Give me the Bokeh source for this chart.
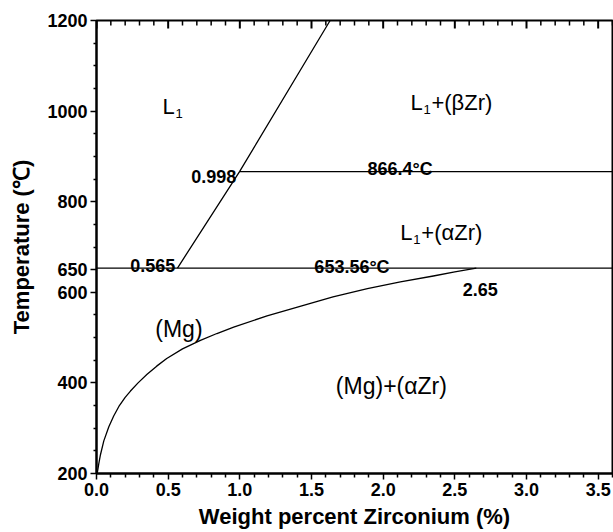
from bokeh.plotting import figure
from bokeh.models import Range1d, FixedTicker, PrintfTickFormatter
from bokeh.core.properties import value
from bokeh.embed import file_html
from bokeh.resources import INLINE

# ---- data ----
x_major = [0.0, 0.5, 1.0, 1.5, 2.0, 2.5, 3.0, 3.5]
x_minor = [0.1, 0.2, 0.3, 0.4, 0.6, 0.7, 0.8, 0.9, 1.1, 1.2, 1.3, 1.4, 1.6, 1.7, 1.8, 1.9,
           2.1, 2.2, 2.3, 2.4, 2.6, 2.7, 2.8, 2.9, 3.1, 3.2, 3.3, 3.4, 3.6]
y_major = [200, 400, 600, 650, 800, 1000, 1200]
y_minor = [250, 300, 350, 450, 500, 550, 700, 750, 850, 900, 950, 1050, 1100, 1150]

liq_x = [0.565, 0.998, 1.63]
liq_t = [653.56, 866.4, 1200]

solvus_x = [0.005, 0.016, 0.028, 0.051, 0.086, 0.12, 0.156, 0.2, 0.237, 0.29, 0.353, 0.42,
            0.49, 0.6, 0.725, 0.84, 0.957, 1.19, 1.42, 1.65, 1.89, 2.12, 2.35, 2.5, 2.65]
solvus_t = [200, 222, 242, 272, 303, 327, 348, 368, 382, 400, 419, 437,
            454, 475, 494, 509, 523, 548, 569, 590, 608, 623, 636, 645, 653.56]

eut_x = [0.0, 3.6]
eut_t = [653.56, 653.56]
peri_x = [0.998, 3.6]
peri_t = [866.4, 866.4]

# phase region labels (L with subscript 1)
phase_x = [0.46, 2.19, 2.12]
phase_t = [1010, 1020, 733]
phase_rest = ["", "+(βZr)", "+(αZr)"]

plain_labels = ["(Mg)", "(Mg)+(αZr)"]
plain_x = [0.41, 1.67]
plain_t = [520, 394]

# numeric annotations
num_right = ["0.998", "0.565"]
num_right_x = [0.975, 0.55]
num_right_t = [856, 659]
num_left = ["866.4°C", "653.56°C", "2.65"]
num_left_x = [1.89, 1.52, 2.555]
num_left_t = [873, 655.5, 607]

FONT = value("Liberation Sans")
Y_BOT, Y_TOP = 200, 1200
FRAME_H = 532 - 20 - 59          # frame height in px
PX = (Y_TOP - Y_BOT) / FRAME_H   # data units per pixel

p = figure(width=613, height=532, x_range=Range1d(0, 3.6), y_range=Range1d(Y_BOT, Y_TOP),
           output_backend="svg", toolbar_location=None,
           min_border_left=96, min_border_right=1, min_border_top=20, min_border_bottom=59)
p.xgrid.visible = False
p.ygrid.visible = False
p.outline_line_color = "black"
p.outline_line_width = 2
p.outline_line_alpha = 1.0

xt = FixedTicker(ticks=x_major, minor_ticks=x_minor)
yt = FixedTicker(ticks=y_major, minor_ticks=y_minor)

xa = p.xaxis[0]
xa.ticker = xt
xa.formatter = PrintfTickFormatter(format="%.1f")
ya = p.yaxis[0]
ya.ticker = yt
ya.formatter = PrintfTickFormatter(format="%d")

for ax in (xa, ya):
    ax.axis_line_width = 2
    ax.axis_line_color = "black"
    ax.major_tick_line_width = 1.5
    ax.minor_tick_line_width = 1.5
    ax.major_tick_in = 0
    ax.major_tick_out = 6
    ax.minor_tick_in = 0
    ax.major_label_text_font = "Liberation Sans"
    ax.major_label_text_font_style = "bold"
    ax.major_label_text_font_size = "18px"
    ax.major_label_text_color = "black"
    ax.axis_label_text_font = "Liberation Sans"
    ax.axis_label_text_font_style = "bold"
    ax.axis_label_text_font_size = "22px"
    ax.axis_label_text_color = "black"
xa.minor_tick_out = 4
ya.minor_tick_out = 3
xa.major_label_standoff = 3
ya.major_label_standoff = 3
xa.axis_label = "Weight percent Zirconium (%)"
ya.axis_label = "Temperature (℃)"
xa.axis_label_standoff = 5
ya.axis_label_standoff = 10

# lines
lw = 1.3
p.line(liq_x, liq_t, line_color="black", line_width=lw)
p.line(solvus_x, solvus_t, line_color="black", line_width=lw, line_join="round")
p.line(eut_x, eut_t, line_color="black", line_width=lw)
p.line(peri_x, peri_t, line_color="black", line_width=lw)

# mirrored inward ticks on the top edge
p.segment(x0=x_major, y0=[Y_TOP] * len(x_major), x1=x_major,
          y1=[Y_TOP - 8 * PX] * len(x_major), line_color="black", line_width=2)
p.segment(x0=x_minor, y0=[Y_TOP] * len(x_minor), x1=x_minor,
          y1=[Y_TOP - 5 * PX] * len(x_minor), line_color="black", line_width=1.5)

# phase labels
p.text(phase_x, phase_t, text=["L"] * 3, text_font=FONT, text_font_size="22px",
       text_color="black", text_baseline="alphabetic", text_align="left")
p.text(phase_x, phase_t, text=["1"] * 3, text_font=FONT, text_font_size="13px",
       text_color="black", text_baseline="alphabetic", text_align="left",
       x_offset=13, y_offset=7)
p.text(phase_x, phase_t, text=phase_rest, text_font=FONT, text_font_size="22px",
       text_color="black", text_baseline="alphabetic", text_align="left", x_offset=21)
p.text(plain_x, plain_t, text=plain_labels, text_font=FONT, text_font_size="23px",
       text_color="black", text_baseline="alphabetic", text_align="left")

# numeric annotations
p.text(num_right_x, num_right_t, text=num_right, text_font=FONT, text_font_size="18px",
       text_font_style="bold", text_color="black", text_baseline="alphabetic", text_align="right")
p.text(num_left_x, num_left_t, text=num_left, text_font=FONT, text_font_size="18px",
       text_font_style="bold", text_color="black", text_baseline="alphabetic", text_align="left")

open("out.html", "w").write(file_html(p, INLINE))
